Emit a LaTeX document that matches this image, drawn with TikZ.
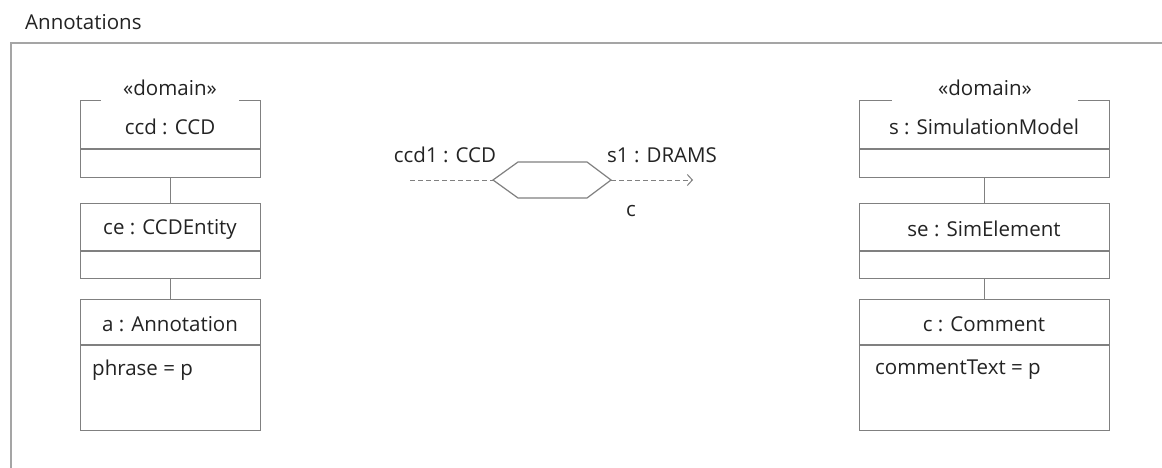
\documentclass[tikz,border=0pt]{standalone}
\usepackage{fontspec}
\setmainfont{Open Sans}
\usetikzlibrary{arrows.meta}
\definecolor{edgegray}{RGB}{128,128,128}
\definecolor{framegray}{RGB}{165,165,165}
\definecolor{inkgray}{RGB}{35,35,35}
\tikzset{
  objbox/.style={draw=edgegray, line width=1.2pt, fill=white, minimum width=180pt, inner sep=0pt, anchor=north west},
  sepline/.style={draw=edgegray, line width=1.2pt},
  link/.style={draw=edgegray, line width=1.2pt},
  txt/.style={text=inkgray, font=\fontsize{20.5}{24}\selectfont, inner sep=0pt},
  stereo/.style={txt, fill=white, inner xsep=22pt, inner ysep=6pt},
  flow/.style={draw=edgegray, line width=1pt, dash pattern=on 5pt off 3pt},
}
\begin{document}
\begin{tikzpicture}[x=1pt,y=-1pt]
\useasboundingbox (0,0) rectangle (1162,468);
\fill[white] (0,0) rectangle (1162,468);

% outer frame and its title
\draw[framegray, line width=1.8pt] (11,470) -- (11,43) -- (1164,43);
\node[txt, anchor=west] (title) at (25,22) {Annotations};

% left column: CCD side
\node[objbox, minimum height=77pt] (ccd) at (80,100) {};
\draw[sepline] (80,149) -- (260,149);
\node[txt] (ccdname) at (170,127) {ccd : CCD};
\node[stereo] (ccdstereo) at (170,88) {«domain»};

\node[objbox, minimum height=75pt] (ce) at (80,203) {};
\draw[sepline] (80,251) -- (260,251);
\node[txt] (cename) at (170,229) {ce : CCDEntity};

\node[objbox, minimum height=131pt] (ann) at (80,299) {};
\draw[sepline] (80,345) -- (260,345);
\node[txt] (annname) at (170,324) {a : Annotation};
\node[txt, anchor=west] (annattr) at (92,370) {phrase = p};

\draw[link] (ccd.south) -- (ce.north);
\draw[link] (ce.south) -- (ann.north);

% right column: simulation side
\node[objbox, minimum width=250pt, minimum height=77pt] (sim) at (859,100) {};
\draw[sepline] (859,149) -- (1109,149);
\node[txt] (simname) at (984,127) {s : SimulationModel};
\node[stereo, inner xsep=46pt] (simstereo) at (985,88) {«domain»};

\node[objbox, minimum width=250pt, minimum height=75pt] (se) at (859,203) {};
\draw[sepline] (859,251) -- (1109,251);
\node[txt] (sename) at (984,229) {se : SimElement};

\node[objbox, minimum width=250pt, minimum height=131pt] (com) at (859,299) {};
\draw[sepline] (859,345) -- (1109,345);
\node[txt] (comname) at (984,324) {c : Comment};
\node[txt, anchor=west] (comattr) at (875,370) {commentText = p};

\draw[link] (sim.south) -- (se.north);
\draw[link] (se.south) -- (com.north);

% middle: transformation hexagon with its in/out flows
\coordinate (hexL) at (493,180);
\coordinate (hexR) at (611,180);
\coordinate (flowin) at (410,180);
\coordinate (flowout) at (693,180);
\draw[edgegray, line width=1.2pt, fill=white]
  (hexL) -- (518,162) -- (587,162) -- (hexR) -- (587,198) -- (518,198) -- cycle;
\draw[flow] (flowin) -- (hexL);
\draw[flow, -{Straight Barb[length=5pt,width=11pt]}] (hexR) -- (flowout);
\node[txt] (inlabel) at (445,155) {ccd1 : CCD};
\node[txt, anchor=west] (outlabel) at (607,155) {s1 : DRAMS};
\node[txt] (clabel) at (631,211) {c};
\end{tikzpicture}
\end{document}
